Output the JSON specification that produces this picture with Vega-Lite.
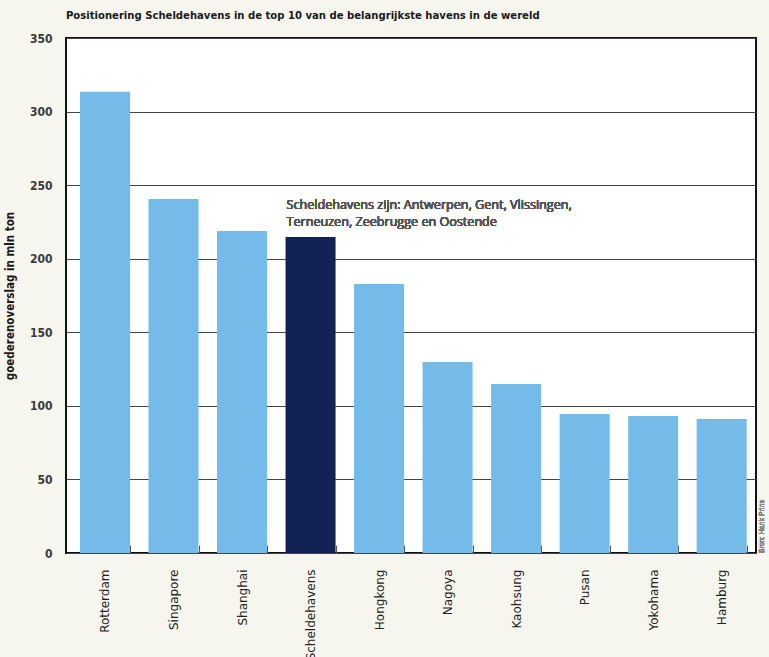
{
  "$schema": "https://vega.github.io/schema/vega-lite/v6.json",
  "width": 690,
  "height": 515,
  "autosize": {"type": "none"},
  "padding": {"left": 66, "top": 38, "right": 13, "bottom": 104},
  "background": "#f6f6ee",
  "title": {
    "text": "Positionering Scheldehavens in de top 10 van de belangrijkste havens in de wereld",
    "anchor": "start",
    "frame": "group",
    "offset": 11,
    "font": "Liberation Sans Narrow, DejaVu Sans Condensed",
    "fontSize": 11.2,
    "fontWeight": "bold",
    "color": "#1a1a1a"
  },
  "config": {
    "view": {"stroke": "#111111", "strokeWidth": 2, "fill": "#ffffff"},
    "axis": {"domain": false}
  },
  "data": {
    "values": [
      {"haven": "Rotterdam", "overslag": 313.4, "groep": "overig"},
      {"haven": "Singapore", "overslag": 240.6, "groep": "overig"},
      {"haven": "Shanghai", "overslag": 218.9, "groep": "overig"},
      {"haven": "Scheldehavens", "overslag": 214.8, "groep": "schelde"},
      {"haven": "Hongkong", "overslag": 182.9, "groep": "overig"},
      {"haven": "Nagoya", "overslag": 129.8, "groep": "overig"},
      {"haven": "Kaohsung", "overslag": 114.9, "groep": "overig"},
      {"haven": "Pusan", "overslag": 94.5, "groep": "overig"},
      {"haven": "Yokohama", "overslag": 93.1, "groep": "overig"},
      {"haven": "Hamburg", "overslag": 91.1, "groep": "overig"}
    ]
  },
  "layer": [
    {
      "mark": {"type": "bar"},
      "encoding": {
        "x": {
          "field": "haven",
          "type": "nominal",
          "sort": null,
          "scale": {"paddingInner": 0.27, "paddingOuter": 0.17, "align": 0.6},
          "axis": {
            "title": null,
            "labelAngle": -90,
            "labelAlign": "right",
            "labelBaseline": "middle",
            "labelPadding": 24,
            "labelFont": "DejaVu Sans",
            "labelFontSize": 12,
            "labelColor": "#222222",
            "ticks": true,
            "tickBand": "extent",
            "tickSize": -8,
            "tickColor": "#555555",
            "tickWidth": 1,
            "grid": false
          }
        },
        "y": {
          "field": "overslag",
          "type": "quantitative",
          "scale": {"domain": [0, 350], "nice": false},
          "axis": {
            "values": [0, 50, 100, 150, 200, 250, 300, 350],
            "title": "goederenoverslag in mln ton",
            "titleFont": "Liberation Sans Narrow, DejaVu Sans Condensed",
            "titleFontSize": 11.5,
            "titleFontWeight": "bold",
            "titleColor": "#1a1a1a",
            "titlePadding": 14,
            "labelFont": "Liberation Sans Narrow, DejaVu Sans Condensed",
            "labelFontSize": 12,
            "labelFontWeight": "bold",
            "labelColor": "#3a3a3a",
            "labelPadding": 14,
            "ticks": false,
            "grid": true,
            "gridColor": "#444444",
            "gridWidth": 1.2,
            "gridOpacity": 1
          }
        },
        "color": {
          "field": "groep",
          "type": "nominal",
          "scale": {"domain": ["overig", "schelde"], "range": ["#75bbe9", "#132255"]},
          "legend": null
        }
      }
    },
    {
      "mark": {
        "type": "text",
        "align": "left",
        "baseline": "alphabetic",
        "dx": 1,
        "lineHeight": 17,
        "font": "Open Sans, DejaVu Sans",
        "fontSize": 12.6,
        "fontWeight": "normal",
        "color": "#555555"
      },
      "encoding": {
        "x": {"datum": "Scheldehavens", "bandPosition": 0},
        "y": {"datum": 233.5},
        "text": {"value": ["Scheldehavens zijn: Antwerpen, Gent, Vlissingen,", "Terneuzen, Zeebrugge en Oostende"]}
      }
    },
    {
      "mark": {
        "type": "text",
        "align": "left",
        "baseline": "middle",
        "angle": 270,
        "dx": 0,
        "dy": 15,
        "font": "Liberation Sans, DejaVu Sans",
        "fontSize": 7,
        "color": "#888888"
      },
      "encoding": {
        "x": {"datum": "Hamburg", "bandPosition": 1},
        "y": {"datum": 0},
        "text": {"value": "Bron: Hank Prins"}
      }
    }
  ]
}
